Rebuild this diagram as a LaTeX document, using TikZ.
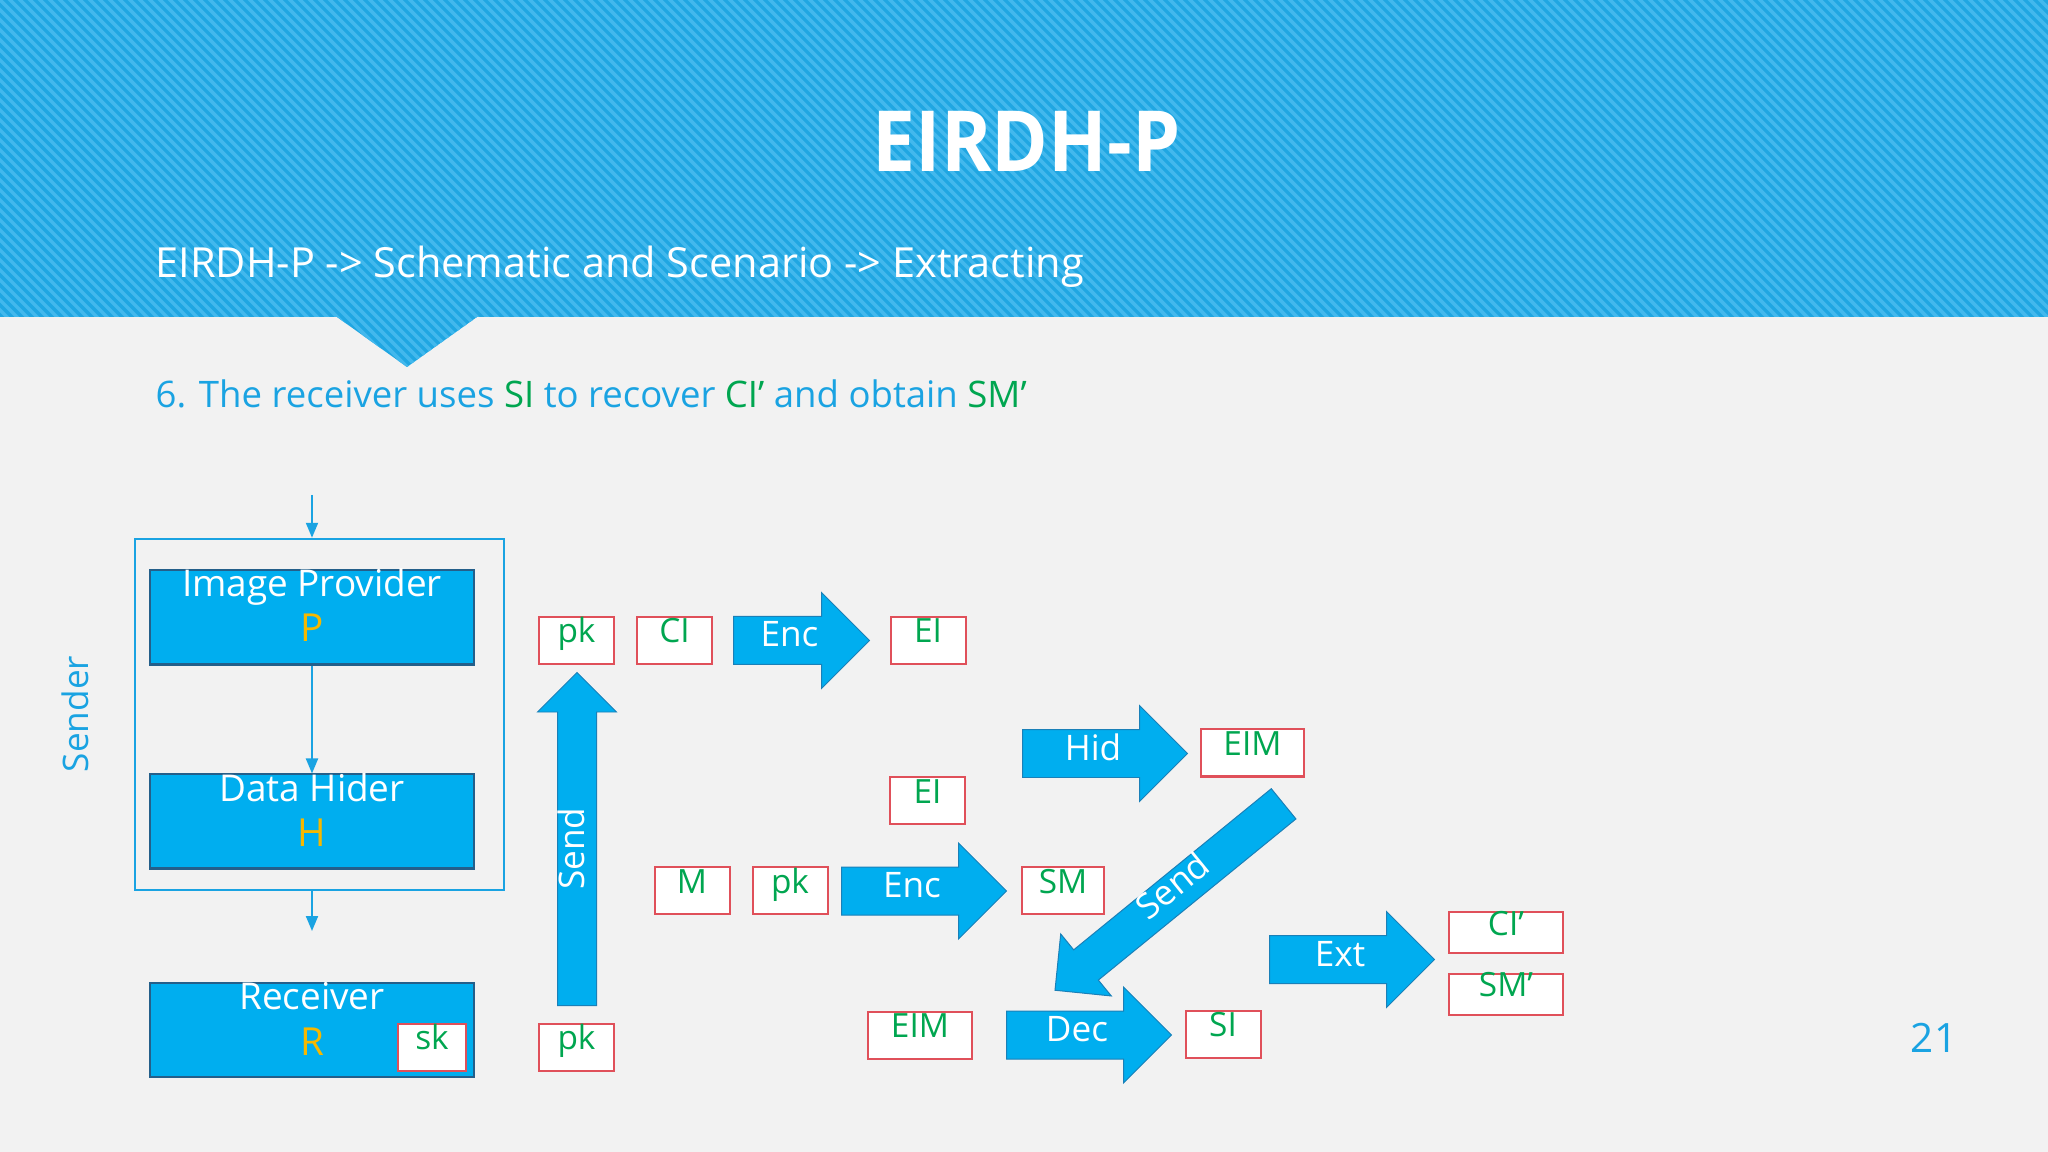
\documentclass[tikz,border=0pt]{standalone}
\usepackage{fontspec}
\setmainfont{Open Sans}
\usetikzlibrary{shapes.arrows,arrows.meta}

\definecolor{slidebg}{HTML}{F2F2F2}
\definecolor{bandblue}{HTML}{1FA6E2}
\definecolor{stripeblue}{HTML}{42B8ED}
\definecolor{boxblue}{HTML}{00AEEF}
\definecolor{boxedge}{HTML}{245F8A}
\definecolor{arrowedge}{HTML}{1A80B8}
\definecolor{lineblue}{HTML}{1AA3E2}
\definecolor{keyred}{HTML}{E0505A}
\definecolor{keygreen}{HTML}{00A650}
\definecolor{gold}{HTML}{F6B800}

\tikzset{
  stripe/.style={stripeblue, line width=0.035cm},
  title/.style={text=white, font=\fontsize{24}{28}\selectfont\bfseries, xscale=0.91},
  crumb/.style={text=white, font=\fontsize{11.8}{14}\selectfont, anchor=base west, inner sep=0pt},
  stepline/.style={text=lineblue, font=\fontsize{10.4}{13}\selectfont, anchor=base west, inner sep=0pt},
  frame/.style={draw=lineblue, line width=0.025cm, minimum width=3.69cm, minimum height=3.51cm},
  agent/.style={draw=boxedge, line width=0.02cm, fill=boxblue, text=white,
    font=\fontsize{10.5}{12}\selectfont, minimum width=3.24cm, minimum height=0.94cm,
    inner sep=0pt, text height=0.25cm, text depth=0.66cm},
  letter/.style={text=gold, font=\fontsize{11}{13}\selectfont, anchor=base, inner sep=0pt},
  keybox/.style={draw=keyred, line width=0.02cm, fill=white, text=keygreen,
    font=\fontsize{9.5}{11}\selectfont, minimum width=0.75cm, minimum height=0.47cm,
    inner sep=0pt, text height=0.2cm, text depth=0.15cm},
  bigarrow/.style={single arrow, draw=arrowedge, line width=0.01cm, fill=boxblue, text=white,
    font=\fontsize{10}{12}\selectfont, inner sep=0pt, single arrow head extend=0.24cm,
    minimum height=1.65cm, text height=0.30cm, text depth=0.17cm, anchor=tail},
  flow/.style={lineblue, line width=0.02cm, -{Triangle[length=0.15cm, width=0.12cm]}},
  side/.style={text=lineblue, font=\fontsize{10}{12}\selectfont}
}

\begin{document}
\begin{tikzpicture}
  \useasboundingbox (0,0) rectangle (20.48,-11.52);
  \fill[slidebg] (0,0) rectangle (20.48,-11.52);
  \begin{scope}
    \clip (0,0) -- (20.48,0) -- (20.48,-3.17) -- (4.77,-3.17) -- (4.07,-3.67)
      -- (3.37,-3.17) -- (0,-3.17) -- cycle;
    \fill[bandblue] (0,0.1) rectangle (20.48,-3.8);
    \foreach \s in {0,...,250}
      \draw[stripe] ({0.1*\s-4},0.1) -- ++(4,-4);
  \end{scope}

  \node[title] (title) at (10.265,-1.41) {EIRDH-P};
  \node[crumb] (crumb) at (1.55,-2.78) {EIRDH-P -> Schematic and Scenario -> Extracting};
  \node[stepline] (step) at (1.55,-4.07) {6. The receiver uses \textcolor{keygreen}{SI} to recover
    \textcolor{keygreen}{CI’} and obtain \textcolor{keygreen}{SM’}};

  \node[side, rotate=90] (sender) at (0.75,-7.14) {Sender};
  \node[frame] (frame) at (3.195,-7.145) {};
  \node[agent] (prov) at (3.12,-6.175) {Image Provider};
  \node[letter] (pmark) at (3.12,-6.42) {P};
  \node[agent] (hider) at (3.12,-8.215) {Data Hider};
  \node[letter] (hmark) at (3.12,-8.47) {H};
  \node[agent] (recv) at (3.12,-10.30) {Receiver};
  \node[letter] (rmark) at (3.12,-10.55) {R};
  \node[keybox, minimum width=0.68cm] (sk) at (4.32,-10.47) {sk};

  \coordinate (feed) at (3.12,-4.95);
  \coordinate (handoff) at (3.12,-9.31);
  \draw[flow] (feed) -- (feed |- frame.north);
  \draw[flow] (prov) -- (hider);
  \draw[flow] (frame.south -| handoff) -- (handoff);

  \node[keybox] (pkbot) at (5.765,-10.47) {pk};
  \node[bigarrow, rotate=90, minimum height=3.33cm, single arrow head extend=0.2cm,
    text height=0.26cm, text depth=0.12cm] (send1) at (5.77,-10.06) {Send};
  \node[keybox] (pktop) at (5.765,-6.405) {pk};
  \node[keybox] (ci) at (6.745,-6.405) {CI};
  \node[bigarrow, minimum height=1.36cm] (enc1) at (7.33,-6.405) {Enc};
  \node[keybox] (eitop) at (9.28,-6.405) {EI};

  \node[bigarrow] (hid) at (10.22,-7.535) {Hid};
  \node[keybox, minimum width=1.03cm] (eimtop) at (12.525,-7.53) {EIM};
  \node[keybox] (eimid) at (9.275,-8.005) {EI};

  \node[keybox] (m) at (6.92,-8.905) {M};
  \node[keybox] (pkmid) at (7.90,-8.905) {pk};
  \node[bigarrow] (enc2) at (8.41,-8.91) {Enc};
  \node[keybox, minimum width=0.82cm] (sm) at (10.63,-8.905) {SM};

  \node[bigarrow, rotate=39.2, shape border rotate=180, minimum height=2.95cm,
    single arrow head extend=0.205cm, text height=0.25cm, text depth=0.13cm] (send2) at (12.84,-8.035) {Send};

  \node[keybox, minimum width=1.04cm] (eimbot) at (9.20,-10.35) {EIM};
  \node[bigarrow] (dec) at (10.06,-10.35) {Dec};
  \node[keybox] (si) at (12.23,-10.345) {SI};

  \node[bigarrow] (ext) at (12.69,-9.595) {Ext};
  \node[keybox, minimum width=1.14cm, minimum height=0.41cm] (ciprime) at (15.06,-9.325) {CI’};
  \node[keybox, minimum width=1.14cm, minimum height=0.41cm] (smprime) at (15.06,-9.94) {SM’};

  \node[side, font=\fontsize{11.5}{14}\selectfont, anchor=base] (page) at (19.34,-10.52) {21};
\end{tikzpicture}
\end{document}
